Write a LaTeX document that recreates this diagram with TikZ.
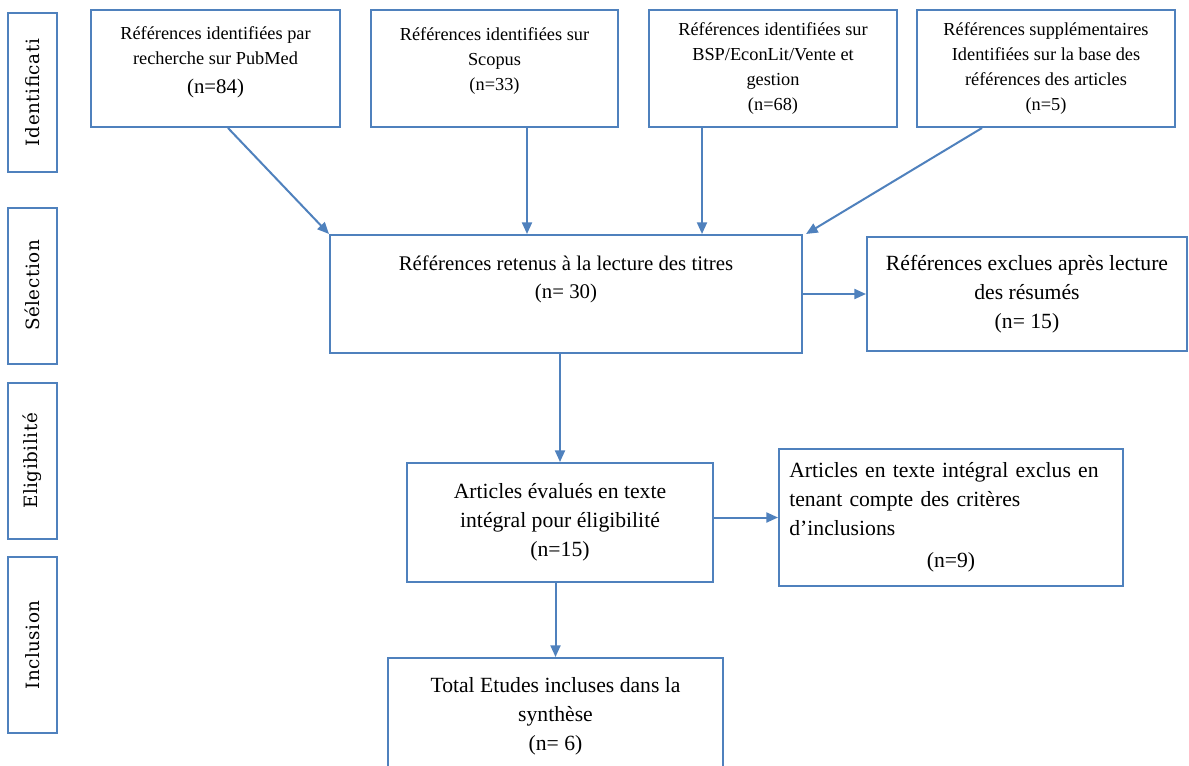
\documentclass[tikz,border=0pt]{standalone}
\usepackage{fontspec}
\setmainfont{Liberation Serif}
\newfontfamily\stagefont[LetterSpace=3]{DejaVu Serif}
\usetikzlibrary{arrows.meta}
\definecolor{boxblue}{RGB}{79,129,189}

\begin{document}
\begin{tikzpicture}[
    x=0.6pt, y=-0.6pt,
    >={Triangle[length=7pt,width=6pt]},
    stage/.style={draw=boxblue, line width=1.2pt, rotate=90, minimum height=29.4pt, inner sep=0pt, font=\stagefont\fontsize{11}{13}\selectfont},
    source/.style={draw=boxblue, line width=1.2pt, align=center, minimum height=70.2pt, font=\fontsize{11}{15}\selectfont},
    stepbox/.style={draw=boxblue, line width=1.2pt, align=center, font=\fontsize{13}{17.4}\selectfont},
    flow/.style={->, draw=boxblue, line width=1.2pt}
]
\path[use as bounding box, fill=white] (0,0) rectangle (1189,765);

% phases
\node[stage, minimum width=95.4pt] (ident) at (32.5,92.5) {Identificati};
\node[stage, minimum width=93.6pt] (select) at (32.5,285.5) {Sélection};
\node[stage, minimum width=93.6pt] (elig) at (32.5,461) {Eligibilité};
\node[stage, minimum width=105.6pt] (incl) at (32.5,645) {Inclusion};

% sources
\node[source, minimum width=149.4pt] (pubmed) at (215.5,68.5) {Références identifiées par\\recherche sur PubMed\\[2pt]{\fontsize{12.5}{15}\selectfont (n=84)}\\[-5pt]\mbox{}};
\node[source, minimum width=148.2pt] (scopus) at (494.5,68.5) {Références identifiées sur\\Scopus\\(n=33)\\[-3.5pt]\mbox{}};
\node[source, minimum width=148.8pt] (bsp) at (773,68.5) {Références identifiées sur\\BSP/EconLit/Vente et\\gestion\\(n=68)};
\node[source, minimum width=154.8pt] (supp) at (1046,68.5) {Références supplémentaires\\Identifiées sur la base des\\références des articles\\(n=5)};

% screening
\node[stepbox, font=\fontsize{12.5}{17}\selectfont, minimum width=283.2pt, minimum height=70.8pt] (retenus) at (566,294) {Références retenus à la lecture des titres\\(n= 30)\\[3pt]\mbox{}};
\node[stepbox, minimum width=192pt, minimum height=68.4pt] (exclres) at (1027,294) {Références exclues après lecture\\des résumés\\(n= 15)};
\node[stepbox, minimum width=183.6pt, minimum height=71.4pt] (eval) at (560,522.5) {Articles évalués en texte\\intégral pour éligibilité\\(n=15)};
\node[stepbox, align=left, text width=194pt, minimum width=206.4pt, minimum height=82.2pt] (exclart) at (951,517.5) {Articles en texte intégral exclus en\\tenant compte des critères\\d’inclusions\\[2pt]\makebox[194pt]{(n=9)}};
\node[stepbox, minimum width=201pt, minimum height=69.6pt] (total) at (555.5,716) {Total Etudes incluses dans la\\synthèse\\(n= 6)};

\draw[flow] ([xshift=7.5pt]pubmed.south) -- (retenus.north west);
\draw[flow] ([xshift=19.5pt]scopus.south) -- ([xshift=19.5pt]scopus.south |- retenus.north);
\draw[flow] ([xshift=-42.6pt]bsp.south) -- ([xshift=-42.6pt]bsp.south |- retenus.north);
\draw[flow] ([xshift=-38.4pt]supp.south) -- ([xshift=1.8pt]retenus.north east);
\draw[flow] (retenus) -- (exclres);
\draw[flow] (eval.north |- retenus.south) -- (eval.north);
\draw[flow] (eval.east |- exclart.west) -- (exclart.west);
\draw[flow] (total.north |- eval.south) -- (total.north);

\end{tikzpicture}
\end{document}
